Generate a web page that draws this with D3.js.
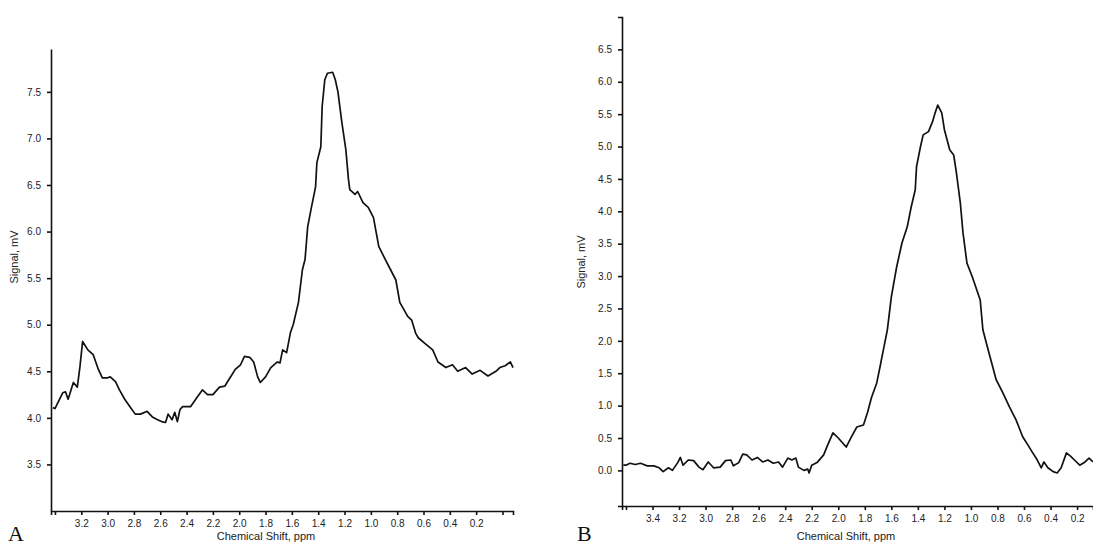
<!DOCTYPE html>
<html>
<head>
<meta charset="utf-8">
<script src="https://cdn.jsdelivr.net/npm/d3@7"></script>
<style>
body { margin: 0; background: #fff; }
svg text { font-family: "Liberation Sans", Arial, sans-serif; }
.axis path, .axis line { stroke: #111; stroke-width: 1.6; }
.axis text { fill: #222; font-size: 10px; }
.trace { fill: none; stroke: #111; stroke-width: 1.7; stroke-linejoin: round; }
</style>
</head>
<body>
<script>
//panel A: chemical shift (ppm) and signal (mV)
var aShift = [3.415, 3.40, 3.34, 3.32, 3.30, 3.26, 3.23, 3.21, 3.19, 3.15, 3.11, 3.07, 3.04, 3.00, 2.98,
    2.94, 2.91, 2.87, 2.83, 2.79, 2.75, 2.70, 2.66, 2.62, 2.59, 2.56, 2.54, 2.51, 2.49, 2.47, 2.45, 2.43,
    2.37, 2.32, 2.28, 2.24, 2.20, 2.15, 2.11, 2.07, 2.03, 1.99, 1.96, 1.92, 1.89, 1.86, 1.84, 1.80, 1.76,
    1.71, 1.69, 1.67, 1.64, 1.61, 1.59, 1.55, 1.52, 1.50, 1.48, 1.45, 1.42, 1.41, 1.38, 1.37, 1.35, 1.33,
    1.29, 1.27, 1.25, 1.22, 1.19, 1.17, 1.16, 1.12, 1.10, 1.06, 1.02, 0.98, 0.94, 0.89, 0.85, 0.81, 0.78,
    0.72, 0.69, 0.66, 0.64, 0.59, 0.53, 0.49, 0.43, 0.38, 0.34, 0.28, 0.23, 0.17, 0.11, 0.05, 0.02, -0.02,
    -0.06, -0.08];
var aSignal = [4.11, 4.10, 4.27, 4.28, 4.20, 4.38, 4.33, 4.55, 4.82, 4.73, 4.68, 4.52, 4.43, 4.43, 4.44,
    4.39, 4.30, 4.20, 4.12, 4.04, 4.04, 4.07, 4.01, 3.98, 3.96, 3.95, 4.04, 3.98, 4.06, 3.96, 4.09, 4.12,
    4.12, 4.22, 4.30, 4.25, 4.25, 4.33, 4.34, 4.43, 4.52, 4.57, 4.66, 4.65, 4.60, 4.44, 4.38, 4.44, 4.54,
    4.60, 4.59, 4.73, 4.70, 4.92, 5.00, 5.24, 5.59, 5.70, 6.05, 6.27, 6.48, 6.74, 6.91, 7.34, 7.63, 7.70,
    7.71, 7.63, 7.50, 7.17, 6.88, 6.56, 6.45, 6.40, 6.43, 6.31, 6.26, 6.15, 5.84, 5.70, 5.59, 5.48, 5.24,
    5.09, 5.05, 4.91, 4.86, 4.80, 4.73, 4.60, 4.54, 4.57, 4.50, 4.54, 4.47, 4.51, 4.45, 4.50, 4.54, 4.56,
    4.60, 4.54];

//panel B
var bShift = [3.62, 3.60, 3.57, 3.53, 3.49, 3.44, 3.39, 3.35, 3.32, 3.28, 3.25, 3.21, 3.19, 3.17, 3.13,
    3.09, 3.05, 3.02, 2.98, 2.94, 2.89, 2.85, 2.81, 2.79, 2.75, 2.72, 2.69, 2.65, 2.61, 2.57, 2.53, 2.49,
    2.45, 2.42, 2.38, 2.35, 2.32, 2.30, 2.26, 2.23, 2.22, 2.20, 2.16, 2.11, 2.08, 2.04, 2.00, 1.94, 1.90,
    1.86, 1.81, 1.78, 1.75, 1.71, 1.69, 1.66, 1.63, 1.60, 1.56, 1.52, 1.48, 1.45, 1.42, 1.41, 1.38, 1.36,
    1.32, 1.29, 1.27, 1.25, 1.22, 1.20, 1.16, 1.13, 1.11, 1.08, 1.06, 1.03, 0.99, 0.93, 0.91, 0.87, 0.84,
    0.81, 0.76, 0.71, 0.66, 0.61, 0.57, 0.54, 0.50, 0.47, 0.45, 0.42, 0.38, 0.35, 0.32, 0.28, 0.25, 0.22,
    0.18, 0.14, 0.11, 0.08];
var bSignal = [0.08, 0.08, 0.11, 0.09, 0.11, 0.07, 0.07, 0.04, -0.02, 0.04, 0.00, 0.12, 0.20, 0.08, 0.16,
    0.15, 0.05, 0.01, 0.13, 0.04, 0.05, 0.15, 0.16, 0.07, 0.12, 0.25, 0.24, 0.16, 0.20, 0.13, 0.16, 0.11,
    0.13, 0.05, 0.19, 0.16, 0.19, 0.05, 0.00, 0.02, -0.04, 0.08, 0.12, 0.24, 0.39, 0.58, 0.50, 0.36, 0.52,
    0.67, 0.70, 0.89, 1.12, 1.35, 1.55, 1.86, 2.17, 2.68, 3.14, 3.51, 3.76, 4.07, 4.33, 4.69, 5.00, 5.18,
    5.23, 5.38, 5.52, 5.64, 5.52, 5.26, 4.95, 4.87, 4.60, 4.13, 3.67, 3.20, 2.99, 2.63, 2.17, 1.86, 1.63,
    1.40, 1.20, 0.98, 0.78, 0.52, 0.39, 0.29, 0.16, 0.04, 0.13, 0.04, -0.02, -0.04, 0.04, 0.27, 0.22, 0.16,
    0.08, 0.13, 0.19, 0.13];

//tick values
var aXTicks = [3.4, 3.2, 3.0, 2.8, 2.6, 2.4, 2.2, 2.0, 1.8, 1.6, 1.4, 1.2, 1.0, 0.8, 0.6, 0.4, 0.2, 0.0];
var aXLabels = [3.2, 3.0, 2.8, 2.6, 2.4, 2.2, 2.0, 1.8, 1.6, 1.4, 1.2, 1.0, 0.8, 0.6, 0.4, 0.2];
var aYTicks = [3.5, 4.0, 4.5, 5.0, 5.5, 6.0, 6.5, 7.0, 7.5];
var bXTicks = [3.6, 3.4, 3.2, 3.0, 2.8, 2.6, 2.4, 2.2, 2.0, 1.8, 1.6, 1.4, 1.2, 1.0, 0.8, 0.6, 0.4, 0.2];
var bXLabels = [3.4, 3.2, 3.0, 2.8, 2.6, 2.4, 2.2, 2.0, 1.8, 1.6, 1.4, 1.2, 1.0, 0.8, 0.6, 0.4, 0.2];
var bYTicks = [0.0, 0.5, 1.0, 1.5, 2.0, 2.5, 3.0, 3.5, 4.0, 4.5, 5.0, 5.5, 6.0, 6.5];

window.onload = drawFigure;

function drawFigure(){
    var svg = d3.select("body")
        .append("svg")
        .attr("width", 1093)
        .attr("height", 547);

    drawPanel(svg, {
        letter: "A", letterX: 8,
        shift: aShift, signal: aSignal,
        xDomain: [3.43, -0.08], xRange: [51, 513],
        yDomain: [3.0, 7.96], yRange: [511, 49],
        xTicks: aXTicks, xLabels: aXLabels, yTicks: aYTicks, yOuter: 0,
        yLabelX: 18, yLabelY: 257, xLabelX: 266
    });

    drawPanel(svg, {
        letter: "B", letterX: 577,
        shift: bShift, signal: bSignal,
        xDomain: [3.63, 0.08], xRange: [622, 1093],
        yDomain: [-0.55, 7.0], yRange: [506, 17],
        xTicks: bXTicks, xLabels: bXLabels, yTicks: bYTicks, yOuter: 4,
        yLabelX: 585, yLabelY: 262, xLabelX: 846
    });
}

function drawPanel(svg, p){
    var x = d3.scaleLinear().domain(p.xDomain).range(p.xRange),
        y = d3.scaleLinear().domain(p.yDomain).range(p.yRange);

    var fmt = d3.format(".1f");

    //x axis, ticks hanging below the line
    svg.append("g")
        .attr("class", "axis")
        .attr("transform", "translate(0," + p.yRange[0] + ")")
        .call(d3.axisBottom(x)
            .tickValues(p.xTicks)
            .tickSize(4)
            .tickSizeOuter(4)
            .tickPadding(5)
            .tickFormat(function(d){ return p.xLabels.indexOf(d) >= 0 ? fmt(d) : ""; }));

    //y axis
    svg.append("g")
        .attr("class", "axis")
        .attr("transform", "translate(" + p.xRange[0] + ",0)")
        .call(d3.axisLeft(y)
            .tickValues(p.yTicks)
            .tickSize(4)
            .tickSizeOuter(p.yOuter)
            .tickPadding(6)
            .tickFormat(fmt));

    //the trace
    var line = d3.line()
        .x(function(d, i){ return x(p.shift[i]); })
        .y(function(d){ return y(d); });

    svg.append("path")
        .datum(p.signal)
        .attr("class", "trace")
        .attr("d", line);

    //axis titles
    svg.append("text")
        .attr("transform", "translate(" + p.yLabelX + "," + p.yLabelY + ") rotate(-90)")
        .attr("text-anchor", "middle")
        .attr("font-size", 11)
        .attr("fill", "#222")
        .text("Signal, mV");

    svg.append("text")
        .attr("x", p.xLabelX)
        .attr("y", 540)
        .attr("text-anchor", "middle")
        .attr("font-size", 11)
        .attr("fill", "#222")
        .text("Chemical Shift, ppm");

    //panel letter
    svg.append("text")
        .attr("x", p.letterX)
        .attr("y", 541)
        .attr("font-size", 22)
        .style("font-family", "'Liberation Serif', 'DejaVu Serif', serif")
        .attr("fill", "#111")
        .text(p.letter);
}
</script>
</body>
</html>
